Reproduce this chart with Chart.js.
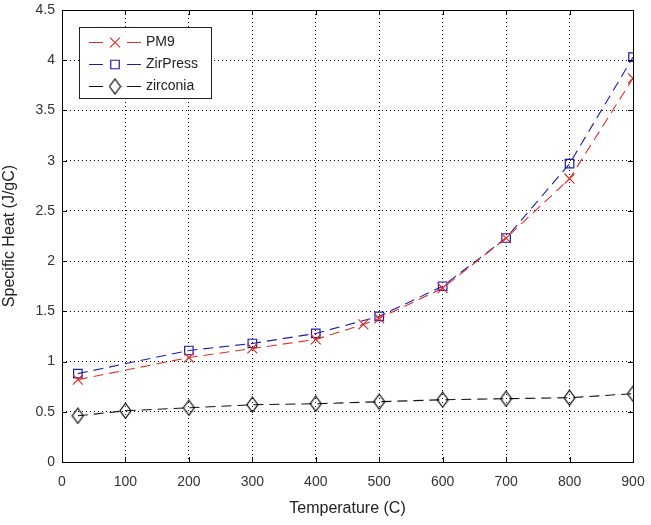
<!DOCTYPE html>
<html>
<head>
<meta charset="utf-8">
<script src="https://cdn.jsdelivr.net/npm/chart.js@4"></script>
<style>
  html, body { margin: 0; padding: 0; background: #fff; }
  #grafico { display: block; }
</style>
</head>
<body>
<canvas id="grafico" width="651" height="525"></canvas>
<script>
// dados
var seriesNames = ['PM9', 'ZirPress', 'zirconia'];

var pm9Temps = [25, 200, 300, 400, 475, 500, 600, 700, 800, 900];
var pm9Heat  = [0.82, 1.04, 1.13, 1.22, 1.37, 1.43, 1.73, 2.23, 2.82, 3.82];

var zirPressTemps = [25, 200, 300, 400, 500, 600, 700, 800, 900];
var zirPressHeat  = [0.88, 1.11, 1.18, 1.28, 1.45, 1.75, 2.23, 2.97, 4.03];

var zirconiaTemps = [25, 100, 200, 300, 400, 500, 600, 700, 800, 900];
var zirconiaHeat  = [0.46, 0.51, 0.54, 0.57, 0.58, 0.60, 0.62, 0.63, 0.64, 0.68];

var xTicks = [0, 100, 200, 300, 400, 500, 600, 700, 800, 900];
var yTicks = [0, 0.5, 1, 1.5, 2, 2.5, 3, 3.5, 4, 4.5];

var FONT = '"Liberation Sans", Arial, Helvetica, sans-serif';

function pares(xs, ys) {
    return xs.map(function (x, i) { return { x: x, y: ys[i] }; });
}

// losango (mais alto que largo) como no matlab
function diamante() {
    var c = document.createElement('canvas');
    c.width = 13; c.height = 17;
    var g = c.getContext('2d');
    g.strokeStyle = '#000';
    g.lineWidth = 1.2;
    g.beginPath();
    g.moveTo(6.5, 1); g.lineTo(12, 8.5); g.lineTo(6.5, 16); g.lineTo(1, 8.5); g.closePath();
    g.stroke();
    return c;
}
var diamondImg = diamante();

var data = {
    datasets: [{
        label: seriesNames[0],
        data: pares(pm9Temps, pm9Heat),
        borderColor: '#dc2f27',
        backgroundColor: 'rgba(0,0,0,0)',
        borderWidth: 1.1,
        borderDash: [10, 6],
        pointStyle: 'crossRot',
        pointRadius: 7,
        pointBorderWidth: 1.2,
        pointBorderColor: '#dc2f27'
    }, {
        label: seriesNames[1],
        data: pares(zirPressTemps, zirPressHeat),
        borderColor: '#1c1cae',
        backgroundColor: 'rgba(0,0,0,0)',
        borderWidth: 1.1,
        borderDash: [10, 6],
        pointStyle: 'rect',
        pointRadius: 6,
        pointBorderWidth: 1.2,
        pointBorderColor: '#1c1cae'
    }, {
        label: seriesNames[2],
        data: pares(zirconiaTemps, zirconiaHeat),
        borderColor: '#111',
        backgroundColor: 'rgba(0,0,0,0)',
        borderWidth: 1.1,
        borderDash: [10, 6],
        pointStyle: diamondImg,
        pointRadius: 7
    }]
};

// moldura, marcas de escala para dentro e legenda dentro do grafico
var molduraPlugin = {
    id: 'moldura',
    afterDatasetsDraw: function (chart) {
        var ctx = chart.ctx, a = chart.chartArea;
        var xs = chart.scales.x, ys = chart.scales.y;
        ctx.save();
        ctx.strokeStyle = '#000';
        ctx.lineWidth = 1;
        ctx.setLineDash([]);
        ctx.strokeRect(Math.round(a.left) + 0.5, Math.round(a.top) + 0.5,
            Math.round(a.right - a.left), Math.round(a.bottom - a.top));
        ctx.beginPath();
        xTicks.forEach(function (t) {
            var px = Math.round(xs.getPixelForValue(t)) + 0.5;
            ctx.moveTo(px, a.bottom); ctx.lineTo(px, a.bottom - 5);
            ctx.moveTo(px, a.top); ctx.lineTo(px, a.top + 5);
        });
        yTicks.forEach(function (t) {
            var py = Math.round(ys.getPixelForValue(t)) + 0.5;
            ctx.moveTo(a.left, py); ctx.lineTo(a.left + 5, py);
            ctx.moveTo(a.right, py); ctx.lineTo(a.right - 5, py);
        });
        ctx.stroke();

        // legenda
        var bx = 79.5, by = 27.5, bw = 132, bh = 71;
        ctx.fillStyle = '#fff';
        ctx.fillRect(bx, by, bw, bh);
        ctx.strokeStyle = '#222';
        ctx.strokeRect(bx, by, bw, bh);
        var rowsY = [42, 64, 86];
        chart.data.datasets.forEach(function (ds, i) {
            var y = rowsY[i] + 0.5;
            ctx.strokeStyle = ds.borderColor;
            ctx.lineWidth = 1;
            ctx.setLineDash([]);
            ctx.beginPath();
            ctx.moveTo(89, y); ctx.lineTo(103, y);
            ctx.moveTo(127, y); ctx.lineTo(141, y);
            ctx.stroke();
            ctx.fillStyle = 'rgba(0,0,0,0)';
            ctx.strokeStyle = ds.borderColor;
            ctx.lineWidth = ds.pointBorderWidth || 1;
            Chart.helpers.drawPoint(ctx, {
                pointStyle: ds.pointStyle,
                radius: ds.pointRadius,
                borderWidth: ds.pointBorderWidth || 1
            }, 115, y);
            ctx.fillStyle = '#222';
            ctx.font = '14px ' + FONT;
            ctx.textBaseline = 'middle';
            ctx.textAlign = 'left';
            ctx.fillText(ds.label, 146, y);
        });
        ctx.restore();
    }
};

var options = {
    responsive: false,
    animation: false,
    layout: { padding: { left: 0, top: 10, right: 18, bottom: 0 } },
    plugins: {
        legend: { display: false },
        tooltip: { enabled: false }
    },
    scales: {
        x: {
            type: 'linear',
            min: 0, max: 900,
            afterFit: function (s) { s.height = 63; s.paddingLeft = 0; s.paddingRight = 0; },
            afterBuildTicks: function (s) { s.ticks = xTicks.map(function (v) { return { value: v }; }); },
            ticks: {
                padding: 12,
                color: '#333',
                font: { family: FONT, size: 14 },
                maxRotation: 0,
                callback: function (v) { return String(v); }
            },
            grid: { color: '#000', lineWidth: 1, drawTicks: false },
            border: { display: false, dash: [1, 3] },
            title: {
                display: true,
                text: 'Temperature (C)',
                color: '#222',
                font: { family: FONT, size: 16 },
                padding: { top: 6, bottom: 7 }
            }
        },
        y: {
            type: 'linear',
            min: 0, max: 4.5,
            afterFit: function (s) { s.width = 62; s.paddingTop = 0; s.paddingBottom = 0; },
            afterBuildTicks: function (s) { s.ticks = yTicks.map(function (v) { return { value: v }; }); },
            ticks: {
                padding: 7,
                color: '#333',
                font: { family: FONT, size: 14 },
                callback: function (v) { return String(v); }
            },
            grid: { color: '#000', lineWidth: 1, drawTicks: false },
            border: { display: false, dash: [1, 3] },
            title: {
                display: true,
                text: 'Specific Heat (J/gC)',
                color: '#222',
                font: { family: FONT, size: 16 },
                padding: { top: 0, bottom: 4 }
            }
        }
    }
};

var ctx = document.querySelector('#grafico').getContext('2d');
var lineChart = new Chart(ctx, {
    type: 'line',
    data: data,
    options: options,
    plugins: [molduraPlugin]
});
</script>
</body>
</html>
